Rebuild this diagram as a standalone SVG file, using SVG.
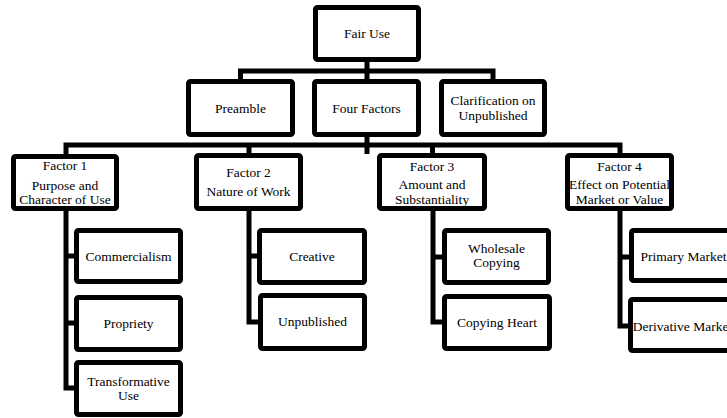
<svg xmlns="http://www.w3.org/2000/svg" width="727" height="418" viewBox="0 0 727 418">
<style>
.box{fill:#fff;stroke:#000;stroke-width:5;}
.t{font-family:"Liberation Serif","Times New Roman",serif;font-size:13.5px;fill:#000;text-anchor:middle;}
.c{fill:none;stroke:#000;stroke-width:5;stroke-linejoin:miter;}
</style>
<rect width="727" height="418" fill="#fff"/>
<g id="connectors">
<path class="c" d="M367,62 V79 M240.5,80 V71 H493 V80"/>
<path class="c" d="M367,137 V154 M66,155 V145 H620 V154 M249,145 V154 M432.5,145 V154"/>
<path class="c" d="M66,211 V388 H75 M66,256 H75 M66,323 H75"/>
<path class="c" d="M249,211 V322 H259 M249,256 H258"/>
<path class="c" d="M433,211 V322 H443 M433,257 H443"/>
<path class="c" d="M620,211 V326 H629 M620,257 H630"/>
</g>
<g id="fair-use"><rect class="box" x="315.5" y="7.5" width="103" height="52" rx="2"/><text class="t" x="367" y="38">Fair Use</text></g>
<g id="preamble"><rect class="box" x="188.5" y="81.5" width="104" height="53" rx="2"/><text class="t" x="240.5" y="112.5">Preamble</text></g>
<g id="four-factors"><rect class="box" x="314.5" y="81.5" width="104" height="53" rx="2"/><text class="t" x="366.5" y="112.5">Four Factors</text></g>
<g id="clarification"><rect class="box" x="441.5" y="81.5" width="103" height="53" rx="2"/><text class="t" x="493" y="105">Clarification on</text><text class="t" x="493" y="119.5">Unpublished</text></g>
<g id="factor1"><rect class="box" x="13.5" y="156.5" width="103" height="52" rx="2"/><text class="t" x="65" y="170">Factor 1</text><text class="t" x="65" y="189.5">Purpose and</text><text class="t" x="65" y="204">Character of Use</text></g>
<g id="factor2"><rect class="box" x="196.5" y="155.5" width="104" height="53" rx="2"/><text class="t" x="248.5" y="177">Factor 2</text><text class="t" x="248.5" y="196">Nature of Work</text></g>
<g id="factor3"><rect class="box" x="379.5" y="155.5" width="105" height="53" rx="2"/><text class="t" x="432" y="170.5">Factor 3</text><text class="t" x="432" y="189">Amount and</text><text class="t" x="432" y="204">Substantiality</text></g>
<g id="factor4"><rect class="box" x="567.5" y="155.5" width="104" height="53" rx="2"/><text class="t" x="619.5" y="170.5">Factor 4</text><text class="t" x="619.5" y="189">Effect on Potential</text><text class="t" x="619.5" y="204">Market or Value</text></g>
<g id="commercialism"><rect class="box" x="76.5" y="230.5" width="104" height="51" rx="2"/><text class="t" x="128.5" y="260.5">Commercialism</text></g>
<g id="propriety"><rect class="box" x="76.5" y="297.5" width="104" height="52" rx="2"/><text class="t" x="128.5" y="327.5">Propriety</text></g>
<g id="transformative"><rect class="box" x="76.5" y="362.5" width="104" height="52" rx="2"/><text class="t" x="128.5" y="386">Transformative</text><text class="t" x="128.5" y="400">Use</text></g>
<g id="creative"><rect class="box" x="259.5" y="230.5" width="105" height="52" rx="2"/><text class="t" x="312" y="260.5">Creative</text></g>
<g id="unpublished"><rect class="box" x="260.5" y="295.5" width="104" height="53" rx="2"/><text class="t" x="312.5" y="326">Unpublished</text></g>
<g id="wholesale"><rect class="box" x="444.5" y="230.5" width="104" height="52" rx="2"/><text class="t" x="496.5" y="253">Wholesale</text><text class="t" x="496.5" y="267">Copying</text></g>
<g id="copying-heart"><rect class="box" x="444.5" y="296.5" width="105" height="52" rx="2"/><text class="t" x="497" y="327">Copying Heart</text></g>
<g id="primary-market"><rect class="box" x="631.5" y="230.5" width="104" height="50" rx="2"/><text class="t" x="683.5" y="260.5">Primary Market</text></g>
<g id="derivative-market"><rect class="box" x="630.5" y="299.5" width="104" height="51" rx="2"/><text class="t" x="682.5" y="330.5">Derivative Market</text></g>
</svg>
